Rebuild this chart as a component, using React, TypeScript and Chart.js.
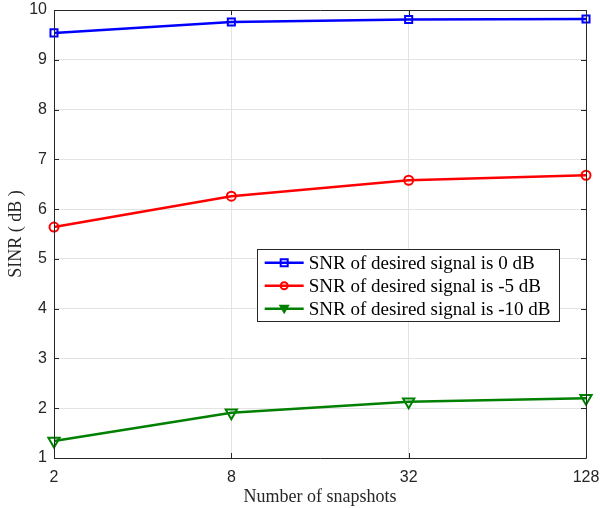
import React, { useEffect, useRef } from "react";
import { Chart, registerables } from "chart.js";

Chart.register(...registerables);

const snapshots = ["2", "8", "32", "128"];
const sinr0dB = [9.54, 9.76, 9.81, 9.82];
const sinrMinus5dB = [5.64, 6.26, 6.58, 6.68];
const sinrMinus10dB = [1.34, 1.91, 2.13, 2.2];
const yTicks = [1, 2, 3, 4, 5, 6, 7, 8, 9, 10];
const seriesLabels = [
  "SNR of desired signal is 0 dB",
  "SNR of desired signal is -5 dB",
  "SNR of desired signal is -10 dB",
];

const AXIS = "#262626";
const SERIF = '"Liberation Serif", "Times New Roman", serif';
const SANS = '"Liberation Sans", Arial, sans-serif';

const framePlugin = {
  id: "frame",
  afterDatasetsDraw(chart: any) {
    const { ctx, chartArea: a, scales } = chart;
    ctx.save();
    ctx.strokeStyle = AXIS;
    ctx.lineWidth = 1;
    ctx.beginPath();
    ctx.rect(Math.round(a.left) + 0.5, Math.round(a.top) + 0.5, Math.round(a.right - a.left), Math.round(a.bottom - a.top));
    ctx.stroke();
    const tl = 5;
    ctx.beginPath();
    yTicks.forEach((v) => {
      const y = Math.round(scales.y.getPixelForValue(v)) + 0.5;
      ctx.moveTo(a.left, y);
      ctx.lineTo(a.left + tl, y);
      ctx.moveTo(a.right, y);
      ctx.lineTo(a.right - tl, y);
    });
    snapshots.forEach((_, i) => {
      const x = Math.round(scales.x.getPixelForValue(i)) + 0.5;
      ctx.moveTo(x, a.bottom);
      ctx.lineTo(x, a.bottom - tl);
      ctx.moveTo(x, a.top);
      ctx.lineTo(x, a.top + tl);
    });
    ctx.stroke();
    ctx.restore();
  },
  afterDraw(chart: any) {
    const { ctx, chartArea: a } = chart;
    const w = a.right - a.left;
    const h = a.bottom - a.top;
    const bx = a.left + w * 0.381;
    const by = a.top + h * 0.533;
    const bw = 302;
    const bh = 72;
    ctx.save();
    ctx.fillStyle = "#ffffff";
    ctx.fillRect(bx, by, bw, bh);
    ctx.strokeStyle = AXIS;
    ctx.lineWidth = 1;
    ctx.strokeRect(Math.round(bx) + 0.5, Math.round(by) + 0.5, bw, bh);
    ctx.font = "19px " + SERIF;
    ctx.textBaseline = "middle";
    chart.data.datasets.forEach((ds: any, i: number) => {
      const y = by + 14 + i * 23;
      ctx.strokeStyle = ds.borderColor;
      ctx.lineWidth = 2.5;
      ctx.beginPath();
      ctx.moveTo(bx + 8, y);
      ctx.lineTo(bx + 47, y);
      ctx.stroke();
      const mx = bx + 27.5;
      ctx.lineWidth = 2;
      ctx.beginPath();
      if (ds.pointStyle === "rect") {
        ctx.rect(mx - 3.5, y - 3.5, 7, 7);
        ctx.stroke();
      } else if (ds.pointStyle === "circle") {
        ctx.arc(mx, y, 3.5, 0, Math.PI * 2);
        ctx.stroke();
      } else {
        ctx.fillStyle = ds.borderColor;
        ctx.moveTo(mx - 5.5, y - 4);
        ctx.lineTo(mx + 5.5, y - 4);
        ctx.lineTo(mx, y + 5.5);
        ctx.closePath();
        ctx.fill();
      }
      ctx.fillStyle = "#000000";
      ctx.fillText(seriesLabels[i], bx + 52, y + 1);
    });
    ctx.restore();
  },
};

export default function App() {
  const ref = useRef<HTMLCanvasElement>(null);
  useEffect(() => {
    document.body.style.margin = "0";
    const mk = (label: string, data: number[], color: string, style: string, r: number, extra: any = {}) => ({
      label,
      data,
      borderColor: color,
      backgroundColor: "rgba(0,0,0,0)",
      borderWidth: 2.5,
      pointStyle: style,
      pointRadius: r,
      pointBorderWidth: 2,
      pointBorderColor: color,
      pointBackgroundColor: "rgba(0,0,0,0)",
      clip: false,
      ...extra,
    });
    const chart = new Chart(ref.current!, {
      type: "line",
      data: {
        labels: snapshots,
        datasets: [
          mk(seriesLabels[0], sinr0dB, "#0000ff", "rect", 5),
          mk(seriesLabels[1], sinrMinus5dB, "#ff0000", "circle", 4.5),
          mk(seriesLabels[2], sinrMinus10dB, "#008000", "triangle", 6.5, { rotation: 180 }),
        ],
      },
      options: {
        animation: false,
        responsive: false,
        layout: { padding: { top: 10, right: 14, left: 0, bottom: 0 } },
        plugins: { legend: { display: false }, tooltip: { enabled: false } },
        scales: {
          x: {
            type: "category",
            offset: false,
            grid: { color: "#e3e3e3", lineWidth: 1, drawTicks: false },
            border: { display: false },
            ticks: {
              color: AXIS,
              font: { family: SANS, size: 16 },
              padding: 10,
              maxRotation: 0,
            },
            title: {
              display: true,
              text: "Number of snapshots",
              color: AXIS,
              font: { family: SERIF, size: 18 },
              padding: { top: 2, bottom: 0 },
            },
            afterFit: (s: any) => {
              s.height = 50;
              s.paddingLeft = 0;
              s.paddingRight = 0;
            },
          },
          y: {
            min: 1,
            max: 10,
            grid: { color: "#e3e3e3", lineWidth: 1, drawTicks: false },
            border: { display: false },
            ticks: {
              stepSize: 1,
              color: AXIS,
              font: { family: SANS, size: 16 },
              padding: 7,
            },
            title: {
              display: true,
              text: "SINR ( dB )",
              color: AXIS,
              font: { family: SERIF, size: 18 },
              padding: { top: 5, bottom: 0 },
            },
            afterFit: (s: any) => {
              s.width = 54;
              s.paddingTop = 0;
              s.paddingBottom = 0;
            },
          },
        },
      },
      plugins: [framePlugin],
    } as any);
    return () => chart.destroy();
  }, []);
  return (
    <div style={{ width: 600, height: 508 }}>
      <canvas ref={ref} width={600} height={508} style={{ display: "block" }} />
    </div>
  );
}
